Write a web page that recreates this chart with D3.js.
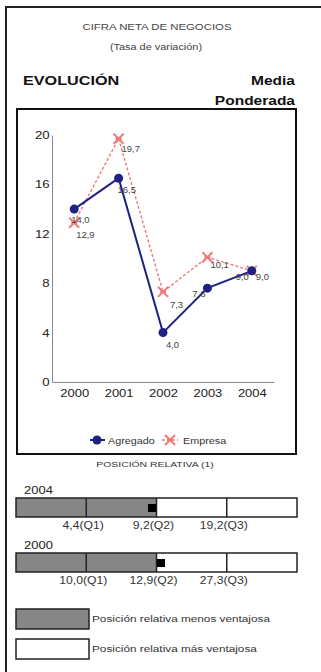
<!DOCTYPE html>
<html>
<head>
<meta charset="utf-8">
<script src="https://cdn.jsdelivr.net/npm/d3@7"></script>
<style>
  html, body { margin: 0; padding: 0; background: #fff; }
  svg { display: block; font-family: "Liberation Sans", Arial, sans-serif; }
</style>
</head>
<body>
<svg id="chart" width="321" height="672"></svg>
<script>
// Evolution series (growth rate, %)
const years = ["2000", "2001", "2002", "2003", "2004"];
const agregado = [14.0, 16.5, 4.0, 7.6, 9.0];
const empresa = [12.9, 19.7, 7.3, 10.1, 9.0];
const yTicks = [0, 4, 8, 12, 16, 20];
const seriesNames = ["Agregado", "Empresa"];

// Relative position rows: quartiles of the sector and the company value
const posYears = ["2004", "2000"];
const posQuartiles = [[4.4, 9.2, 19.2], [10.0, 12.9, 27.3]];
const posEmpresa = [9.0, 12.9];
const posLegend = ["Posición relativa menos ventajosa", "Posición relativa más ventajosa"];

// Label offsets around each point [dx, dy, anchor]
const agregadoLabelOffsets = [[-3, 14, "start"], [-1, 15, "start"], [3, 15, "start"], [-2, 9, "end"], [-3, 9, "end"]];
const empresaLabelOffsets = [[2, 15, "start"], [3, 13, "start"], [7, 16, "start"], [3, 11, "start"], [4, 9, "start"]];

const navy = "#1d2280";
const salmon = "#ef7a78";
const gray = "#868686";
const fmt = v => d3.format(".1f")(v).replace(".", ",");

const svg = d3.select("#chart");

// Text helper: horizontally widened glyphs, as in the printed sheet
function txt(g, x, y, s, o = {}) {
  return g.append("text")
    .attr("transform", `translate(${x},${y}) scale(${o.k || 1.2},1)`)
    .attr("text-anchor", o.anchor || "start")
    .attr("font-size", o.size || 9)
    .attr("font-weight", o.weight || "normal")
    .attr("fill", o.fill || "#222")
    .text(s);
}

// Outer frame (top and left edges)
svg.append("line").attr("x1", 5).attr("x2", 321).attr("y1", 7).attr("y2", 7)
  .attr("stroke", "#222").attr("stroke-width", 2);
svg.append("line").attr("x1", 6).attr("x2", 6).attr("y1", 6).attr("y2", 672)
  .attr("stroke", "#222").attr("stroke-width", 2);

// Headings
txt(svg, 157, 30, "CIFRA NETA DE NEGOCIOS", { anchor: "middle", size: 9.5, k: 1.2, fill: "#444" });
txt(svg, 156, 50, "(Tasa de variación)", { anchor: "middle", size: 9.5, k: 1.15, fill: "#444" });
txt(svg, 23, 85, "EVOLUCIÓN", { size: 13.5, weight: "bold", k: 1.2, fill: "#111" });
txt(svg, 295, 85, "Media", { anchor: "end", size: 13.5, weight: "bold", k: 1.15, fill: "#111" });
txt(svg, 295, 105, "Ponderada", { anchor: "end", size: 13.5, weight: "bold", k: 1.15, fill: "#111" });

// Chart box
svg.append("rect").attr("x", 17).attr("y", 109).attr("width", 279).attr("height", 345)
  .attr("fill", "none").attr("stroke", "#111").attr("stroke-width", 2);

const x = d3.scalePoint().domain(years).range([52, 274]).padding(0.5);
const y = d3.scaleLinear().domain([0, 20]).range([382, 135]);

// Axes
const gx = svg.append("g").attr("transform", "translate(0,382)")
  .call(d3.axisBottom(x).tickSize(0).tickPadding(7));
gx.select(".domain").attr("stroke", "#888");
gx.selectAll("text").attr("font-size", 11).attr("fill", "#222")
  .attr("font-family", "Liberation Sans, Arial, sans-serif")
  .attr("transform", "scale(1.18,1)");

const gy = svg.append("g").attr("transform", "translate(52,0)")
  .call(d3.axisLeft(y).tickValues(yTicks).tickSize(0).tickPadding(2).tickFormat(d3.format("d")));
gy.select(".domain").attr("stroke", "#888");
gy.selectAll("text").attr("font-size", 11).attr("fill", "#222")
  .attr("font-family", "Liberation Sans, Arial, sans-serif")
  .attr("transform", "scale(1.2,1)");

const line = d3.line().x((d, i) => x(years[i])).y(d => y(d));

// Empresa series: dashed salmon line with star markers
function starPath(cx, cy, r) {
  return `M${cx - r},${cy - r}L${cx + r},${cy + r}M${cx - r},${cy + r}L${cx + r},${cy - r}` +
         `M${cx - r * 0.6},${cy}L${cx + r * 0.6},${cy}`;
}
svg.append("path").datum(empresa).attr("d", line)
  .attr("fill", "none").attr("stroke", salmon).attr("stroke-width", 1.4).attr("stroke-dasharray", "3,2");
svg.append("g").selectAll("path").data(empresa).join("path")
  .attr("d", (d, i) => starPath(x(years[i]), y(d), 5))
  .attr("stroke", salmon).attr("stroke-width", 2).attr("fill", "none");

// Agregado series: solid navy line with dots
svg.append("path").datum(agregado).attr("d", line)
  .attr("fill", "none").attr("stroke", navy).attr("stroke-width", 2);
svg.append("g").selectAll("circle").data(agregado).join("circle")
  .attr("cx", (d, i) => x(years[i])).attr("cy", d => y(d)).attr("r", 4.5).attr("fill", navy);

// Value labels
const lbl = svg.append("g");
agregado.forEach((v, i) => {
  const [dx, dy, a] = agregadoLabelOffsets[i];
  txt(lbl, x(years[i]) + dx, y(v) + dy, fmt(v), { anchor: a, size: 9, k: 1.05, fill: "#444" });
});
empresa.forEach((v, i) => {
  const [dx, dy, a] = empresaLabelOffsets[i];
  txt(lbl, x(years[i]) + dx, y(v) + dy, fmt(v), { anchor: a, size: 9, k: 1.05, fill: "#444" });
});

// Series legend
const lg = svg.append("g");
lg.append("line").attr("x1", 90).attr("x2", 105).attr("y1", 440).attr("y2", 440)
  .attr("stroke", navy).attr("stroke-width", 2);
lg.append("circle").attr("cx", 97).attr("cy", 440).attr("r", 4.5).attr("fill", navy);
txt(lg, 108, 443.5, seriesNames[0], { size: 9, k: 1.2, fill: "#333" });
lg.append("line").attr("x1", 162).attr("x2", 178).attr("y1", 440).attr("y2", 440)
  .attr("stroke", salmon).attr("stroke-width", 1.4).attr("stroke-dasharray", "3,2");
lg.append("path").attr("d", starPath(170, 440, 5)).attr("stroke", salmon).attr("stroke-width", 2);
txt(lg, 183, 443.5, seriesNames[1], { size: 9, k: 1.2, fill: "#333" });

// Relative position section
txt(svg, 155, 467, "POSICIÓN RELATIVA (1)", { anchor: "middle", size: 8, k: 1.3, fill: "#333" });

const barX0 = 16, barX1 = 297, barH = 19;
const segW = (barX1 - barX0) / 4;
posYears.forEach((yr, r) => {
  const top = 498 + r * 55;
  const g = svg.append("g");
  txt(g, 24, top - 4, yr, { size: 11, k: 1.18, fill: "#222" });
  const q = posQuartiles[r];
  const bounds = [barX0, barX0 + segW, barX0 + 2 * segW, barX0 + 3 * segW, barX1];
  const pos = d3.scaleLinear().domain(q).range(bounds.slice(1, 4));
  // Below-median segments shaded
  g.append("rect").attr("x", barX0).attr("y", top).attr("width", bounds[2] - barX0).attr("height", barH)
    .attr("fill", gray);
  g.append("rect").attr("x", barX0).attr("y", top).attr("width", barX1 - barX0).attr("height", barH)
    .attr("fill", "none").attr("stroke", "#222").attr("stroke-width", 1.5);
  g.selectAll("line.div").data(q).join("line").attr("class", "div")
    .attr("x1", d => pos(d)).attr("x2", d => pos(d)).attr("y1", top).attr("y2", top + barH)
    .attr("stroke", "#222").attr("stroke-width", 1.5);
  // Company marker, kept inside the segment its value falls in
  const v = posEmpresa[r];
  const seg = Math.min(3, d3.bisectRight(q, v));
  const px = pos(v), s = 8;
  let mx = px - s / 2;
  mx = Math.max(bounds[seg] + 0.5, Math.min(bounds[seg + 1] - s - 0.5, mx));
  g.append("rect").attr("x", mx).attr("y", top + 6).attr("width", s).attr("height", s).attr("fill", "#000");
  q.forEach((d, i) => {
    txt(g, pos(d) - 3, top + barH + 12, `${fmt(d)}(Q${i + 1})`, { anchor: "middle", size: 10, k: 1.22, fill: "#333" });
  });
});

// Shading legend
posLegend.forEach((t, i) => {
  const top = 609 + i * 30;
  svg.append("rect").attr("x", 16).attr("y", top).attr("width", 73).attr("height", 20)
    .attr("fill", i === 0 ? gray : "#fff").attr("stroke", "#222").attr("stroke-width", 1.5);
  txt(svg, 92, top + 13, t, { size: 9, k: 1.31, fill: "#333" });
});
</script>
</body>
</html>
